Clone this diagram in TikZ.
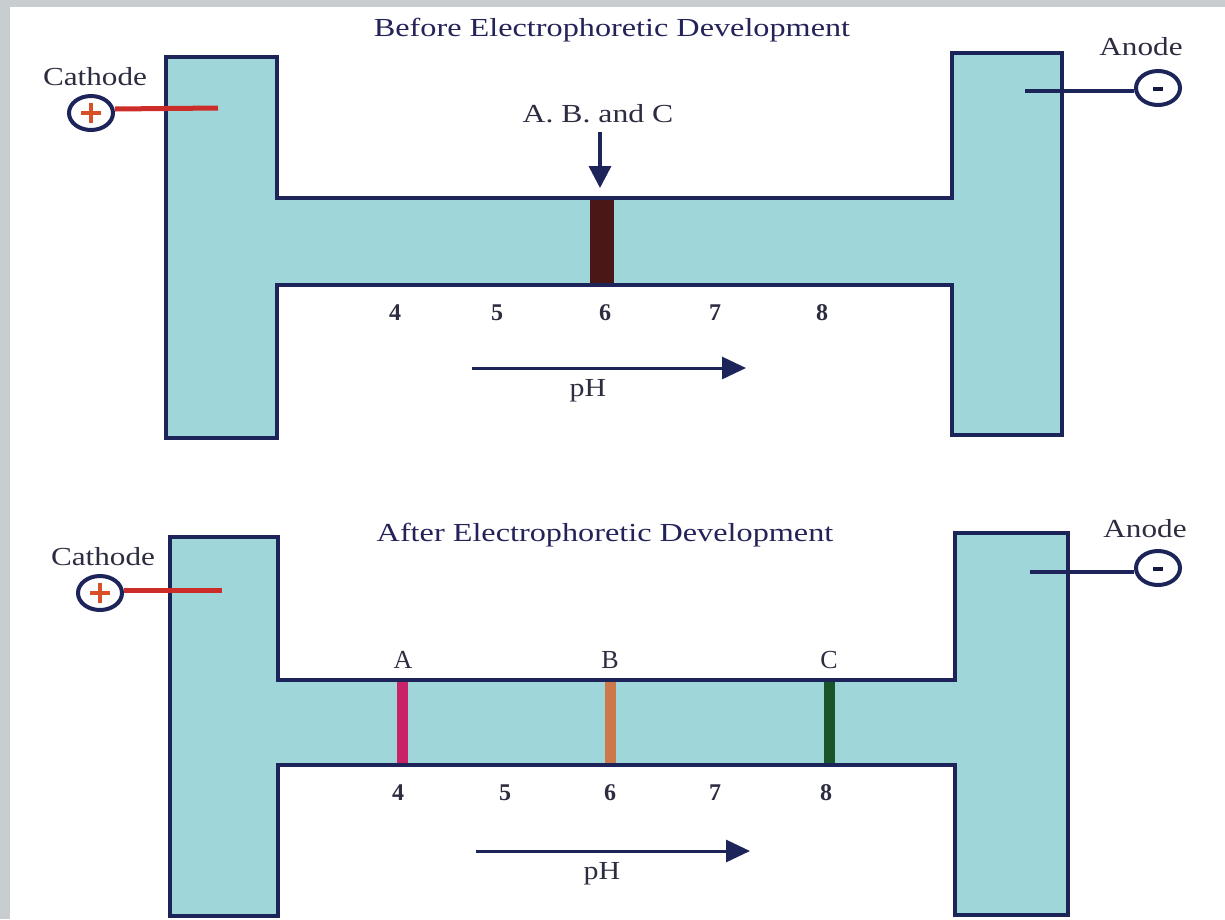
\documentclass[tikz,border=0pt]{standalone}
\usepackage{fontspec}
\setmainfont{Liberation Serif}
\usetikzlibrary{arrows.meta,shapes.geometric}
\definecolor{gel}{RGB}{158,214,218}
\definecolor{edge}{RGB}{28,36,90}
\definecolor{txt}{RGB}{45,45,65}
\definecolor{ttl}{RGB}{35,35,90}
\definecolor{redw}{RGB}{205,45,40}
\definecolor{plusc}{RGB}{215,80,40}
\definecolor{bandA}{RGB}{200,35,105}
\definecolor{bandB}{RGB}{205,120,75}
\definecolor{bandC}{RGB}{25,85,40}
\definecolor{bandM}{RGB}{75,22,22}
\definecolor{frame}{RGB}{200,205,208}
\tikzset{
  gelshape/.style={fill=gel, draw=edge, line width=3.5pt, line join=miter},
  lbl/.style={text=txt, font=\fontsize{26}{26}\selectfont, inner sep=0pt},
  num/.style={text=txt, font=\fontsize{24}{24}\selectfont\bfseries, inner sep=0pt},
  ttlstyle/.style={text=ttl, font=\fontsize{26}{26}\selectfont, inner sep=0pt},
  electrode/.style={ellipse, draw=edge, line width=4pt, minimum width=44pt, minimum height=34pt, inner sep=0pt, fill=white},
  phArrow/.style={draw=edge, line width=3pt, -{Triangle[length=24pt,width=22pt]}},
  downArrow/.style={draw=edge, line width=3.5pt, -{Triangle[length=22pt,width=22pt]}},
  redwire/.style={draw=redw, line width=5pt},
  navywire/.style={draw=edge, line width=4pt},
}
\begin{document}
\begin{tikzpicture}[x=1pt,y=-1pt]
\useasboundingbox (0,0) rectangle (1225,919);
\fill[frame] (0,0) rectangle (1225,919);
\fill[white] (10,7) rectangle (1225,919);

% ---------- top panel ----------
\draw[gelshape] (166,57) -- (277,57) -- (277,198) -- (952,198) -- (952,53) -- (1062,53) -- (1062,435) -- (952,435) -- (952,285) -- (277,285) -- (277,438) -- (166,438) -- cycle;
\fill[bandM] (590,200) rectangle (614,283);
\node[ttlstyle] (t1) at (612,30) {\scalebox{1.24}[1]{Before Electrophoretic Development}};
\node[lbl] (abc) at (598,114) {\scalebox{1.22}[1]{A. B. and C}};
\coordinate (abcTop) at (600,132);
\coordinate (abcTip) at (600,188);
\draw[downArrow] (abcTop) -- (abcTip);
\foreach \n/\x in {4/395,5/497,6/605,7/715,8/822}{
  \node[num] (n1\n) at (\x,313) {\n};
}
\coordinate (ph1s) at (472,368);
\coordinate (ph1e) at (746,368);
\draw[phArrow] (ph1s) -- (ph1e);
\node[lbl] (ph1) at (588,391) {\scalebox{1.15}[1]{pH}};
% cathode top
\node[lbl] (cath1) at (95,77) {\scalebox{1.2}[1]{Cathode}};
\node[electrode] (cp1) at (91,113) {};
\coordinate (cw1) at (218,108);
\draw[redwire] (cp1.east) ++(0,-4) -- (cw1);
\draw[plusc, line width=3.5pt] (cp1.center) ++(-10,0) -- ++(20,0) (cp1.center) ++(0,-10) -- ++(0,20);
% anode top
\node[lbl] (an1) at (1141,47) {\scalebox{1.2}[1]{Anode}};
\node[electrode] (ap1) at (1158,88) {};
\coordinate (aw1) at (1025,91);
\draw[navywire] (ap1.west) ++(0,3) -- (aw1);
\draw[edge!70!black, line width=3.5pt] (ap1.center) ++(-5,1) -- ++(10,0);

% ---------- bottom panel ----------
\draw[gelshape] (170,537) -- (278,537) -- (278,680) -- (955,680) -- (955,533) -- (1068,533) -- (1068,915) -- (955,915) -- (955,765) -- (278,765) -- (278,916) -- (170,916) -- cycle;
\fill[bandA] (397,682) rectangle (408,763);
\fill[bandB] (605,682) rectangle (616,763);
\fill[bandC] (824,682) rectangle (835,763);
\node[ttlstyle] (t2) at (605,535) {\scalebox{1.24}[1]{After Electrophoretic Development}};
\node[lbl] (lA) at (403,660) {A};
\node[lbl] (lB) at (610,660) {B};
\node[lbl] (lC) at (829,660) {C};
\foreach \n/\x in {4/398,5/505,6/610,7/715,8/826}{
  \node[num] (n2\n) at (\x,793) {\n};
}
\coordinate (ph2s) at (476,851);
\coordinate (ph2e) at (750,851);
\draw[phArrow] (ph2s) -- (ph2e);
\node[lbl] (ph2) at (602,874) {\scalebox{1.15}[1]{pH}};
% cathode bottom
\node[lbl] (cath2) at (103,557) {\scalebox{1.2}[1]{Cathode}};
\node[electrode] (cp2) at (100,593) {};
\coordinate (cw2) at (222,590);
\draw[redwire] (cp2.east) ++(0,-3) -- (cw2);
\draw[plusc, line width=3.5pt] (cp2.center) ++(-10,0) -- ++(20,0) (cp2.center) ++(0,-10) -- ++(0,20);
% anode bottom
\node[lbl] (an2) at (1145,529) {\scalebox{1.2}[1]{Anode}};
\node[electrode] (ap2) at (1158,568) {};
\coordinate (aw2) at (1030,572);
\draw[navywire] (ap2.west) ++(0,4) -- (aw2);
\draw[edge!70!black, line width=3.5pt] (ap2.center) ++(-5,1) -- ++(10,0);
\end{tikzpicture}
\end{document}
